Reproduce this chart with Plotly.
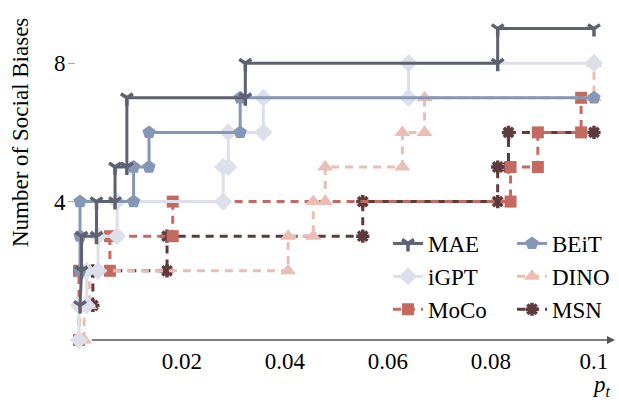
import plotly.graph_objects as go

# ---- data ----
MAE_x = [0.0002, 0.0005, 0.0005, 0.0034, 0.0034, 0.007, 0.007, 0.0093, 0.0093, 0.0323, 0.0323, 0.0813, 0.0813, 0.1]
MAE_y = [1, 2, 3, 3, 4, 4, 5, 5, 7, 7, 8, 8, 9, 9]

BEiT_x = [0.0002, 0.0002, 0.0002, 0.0106, 0.0106, 0.0136, 0.0136, 0.0313, 0.0313, 0.1]
BEiT_y = [2, 3, 4, 4, 5, 5, 6, 6, 7, 7]

iGPT_x = [0.0, 0.0, 0.0015, 0.0015, 0.0037, 0.0037, 0.0074, 0.0074, 0.028, 0.028, 0.029, 0.029, 0.0358, 0.0358, 0.064, 0.064, 0.1]
iGPT_y = [0, 1, 1, 2, 2, 3, 3, 4, 4, 5, 5, 6, 6, 7, 7, 8, 8]

DINO_x = [0.001, 0.001, 0.002, 0.002, 0.0406, 0.0406, 0.0455, 0.0455, 0.0478, 0.0478, 0.0628, 0.0628, 0.0671, 0.0671, 0.1, 0.1]
DINO_y = [0, 1, 1, 2, 2, 3, 3, 4, 4, 5, 5, 6, 6, 7, 7, 8]

MoCo_x = [0.0, 0.0, 0.006, 0.006, 0.0182, 0.0182, 0.0838, 0.0838, 0.0891, 0.0891, 0.0975, 0.0975]
MoCo_y = [0, 2, 2, 3, 3, 4, 4, 5, 5, 6, 6, 7]

MSN_x = [0.0027, 0.0027, 0.0171, 0.0171, 0.0551, 0.0551, 0.0813, 0.0813, 0.0834, 0.0834, 0.1]
MSN_y = [1, 2, 2, 3, 3, 4, 4, 5, 5, 6, 6]

x_ticks = [0.02, 0.04, 0.06, 0.08, 0.1]
x_tick_labels = ["0.02", "0.04", "0.06", "0.08", "0.1"]
y_ticks = [4, 8]
y_tick_labels = ["4", "8"]

FONT = "Liberation Serif"
FS = 23

# name, x, y, color, dash, symbol, marker size, legend, rank
series = [
    ("MSN", MSN_x, MSN_y, "#5e3a3d", "8px,6px", "asterisk", 11, "legend2", 3),
    ("MoCo", MoCo_x, MoCo_y, "#c46a61", "8px,6px", "square", 12, "legend", 3),
    ("DINO", DINO_x, DINO_y, "#ecbdb4", "8px,6px", "triangle-up", 14, "legend2", 2),
    ("iGPT", iGPT_x, iGPT_y, "#dde0ea", "solid", "diamond", 14, "legend", 2),
    ("BEiT", BEiT_x, BEiT_y, "#8696b6", "solid", "pentagon", 14, "legend2", 1),
    ("MAE", MAE_x, MAE_y, "#5d6170", "solid", "y-down", 10, "legend", 1),
]

fig = go.Figure()
for name, xs, ys, col, dash, sym, size, leg, rank in series:
    marker = dict(symbol=sym, size=size, color=col)
    if sym in ("asterisk", "y-down"):
        marker["line"] = dict(color=col, width=3.5)
    else:
        marker["line"] = dict(width=0)
    fig.add_trace(go.Scatter(
        x=xs, y=ys, name=name, mode="lines+markers",
        line=dict(color=col, width=3, dash=dash),
        marker=marker, cliponaxis=False,
        legend=leg, legendrank=rank,
    ))

L, R, T, B = 76, 4, 15, 64
W, H = 619, 404
pw = W - L - R
ph = H - T - B
x0 = -0.00058
x1 = 0.10408
y1 = 9.393

def px_x(p):
    return (p - L) / pw

def px_y(p):
    return (H - B - p) / ph

fig.update_layout(
    width=W, height=H,
    margin=dict(l=L, r=R, t=T, b=B),
    paper_bgcolor="white", plot_bgcolor="white",
    font=dict(family=FONT, size=FS, color="black"),
    showlegend=True,
    legend=dict(x=px_x(388), y=px_y(222), xanchor="left", yanchor="top",
                bgcolor="rgba(255,255,255,0)", font=dict(family=FONT, size=FS),
                tracegroupgap=0, itemwidth=30),
    legend2=dict(x=px_x(512), y=px_y(222), xanchor="left", yanchor="top",
                 bgcolor="rgba(255,255,255,0)", font=dict(family=FONT, size=FS),
                 tracegroupgap=0, itemwidth=30),
    xaxis=dict(range=[x0, x1], showgrid=False, zeroline=False, showline=False,
               tickvals=x_ticks, ticktext=x_tick_labels, ticks="",
               tickfont=dict(family=FONT, size=FS, color="black"),
               ticklabelstandoff=5),
    yaxis=dict(range=[0, y1], showgrid=False, zeroline=False, showline=False,
               tickvals=y_ticks, ticktext=y_tick_labels, ticks="outside",
               ticklen=7, tickcolor="#aaaaaa", tickwidth=1,
               tickfont=dict(family=FONT, size=FS, color="black"),
               ticklabelstandoff=-2),
    annotations=[
        dict(x=x1, y=0, ax=0.0022, ay=0, xref="x", yref="y", axref="x", ayref="y",
             text="", showarrow=True, arrowhead=2, arrowsize=1, arrowwidth=1.6,
             arrowcolor="#555555"),
        dict(x=px_x(20), y=px_y(133), xref="paper", yref="paper",
             text="Number of Social Biases", showarrow=False, textangle=-90,
             font=dict(family=FONT, size=FS, color="black"),
             xanchor="center", yanchor="middle"),
        dict(x=px_x(601), y=px_y(386), xref="paper", yref="paper",
             text="<i>p<sub>t</sub></i>", showarrow=False,
             font=dict(family=FONT, size=FS, color="black"),
             xanchor="center", yanchor="middle"),
    ],
)

fig.write_html("out.html", config={"displayModeBar": False},
               post_script="document.body.style.margin='0px';")
